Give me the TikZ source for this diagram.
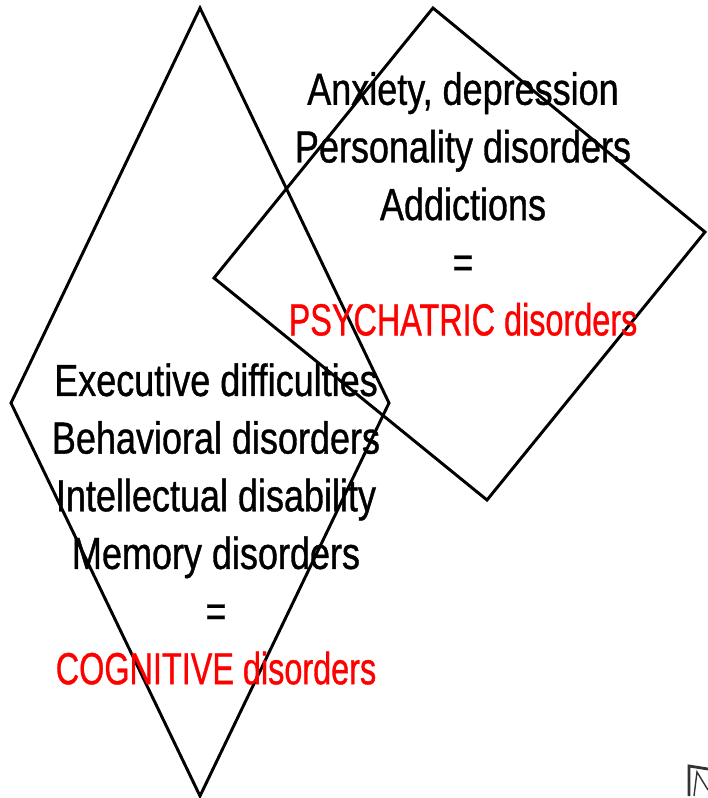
\documentclass[tikz,border=0pt]{standalone}
\usepackage{fontspec}
\usepackage{graphicx}
\setmainfont{Liberation Sans}[FakeStretch=0.8, FakeBold=0.8]
\usetikzlibrary{positioning}
\tikzset{
    %Define style for the two lozenges
    lozenge/.style={
           draw = black, line width = 2.1pt,
           line join = miter},
    %Define style for text blocks
    listing/.style={
           align = center,
           inner sep = 0pt,
           font = \fontsize{32}{41}\selectfont}
}
\newcommand{\redline}[1]{\textcolor{red}{\scalebox{0.9}[1]{#1}}}
\begin{document}
\begin{tikzpicture}[x=0.025cm, y=-0.025cm]
\useasboundingbox (0,0) rectangle (708,798);
 %corners
\coordinate (CT) at (200,8);
\coordinate (CL) at (11,403);
\coordinate (CB) at (200,796);
\coordinate (CR) at (389,403);
\coordinate (PT) at (433,8);
\coordinate (PR) at (705,232);
\coordinate (PB) at (487,500);
\coordinate (PL) at (214,278);
 %lozenges
\draw[lozenge] (CT) -- (CR) -- (CB) -- (CL) -- cycle;
\draw[lozenge] (PT) -- (PR) -- (PB) -- (PL) -- cycle;
 %nodes
\node[listing] (psy) at (463,204) {Anxiety, depression\\Personality disorders\\Addictions\\=\\\redline{PSYCHATRIC disorders}};
\node[listing] (cog) at (216,524) {Executive difficulties\\Behavioral disorders\\Intellectual disability\\Memory disorders\\=\\\redline{COGNITIVE disorders}};
 %fragment in the corner
\draw[gray!40!black, line width=2pt] (689,796) -- (689,766) -- (708,769);
\draw[gray!40!black, line width=1pt] (694,796) -- (697,772) -- (708,790);
\end{tikzpicture}
\end{document}
